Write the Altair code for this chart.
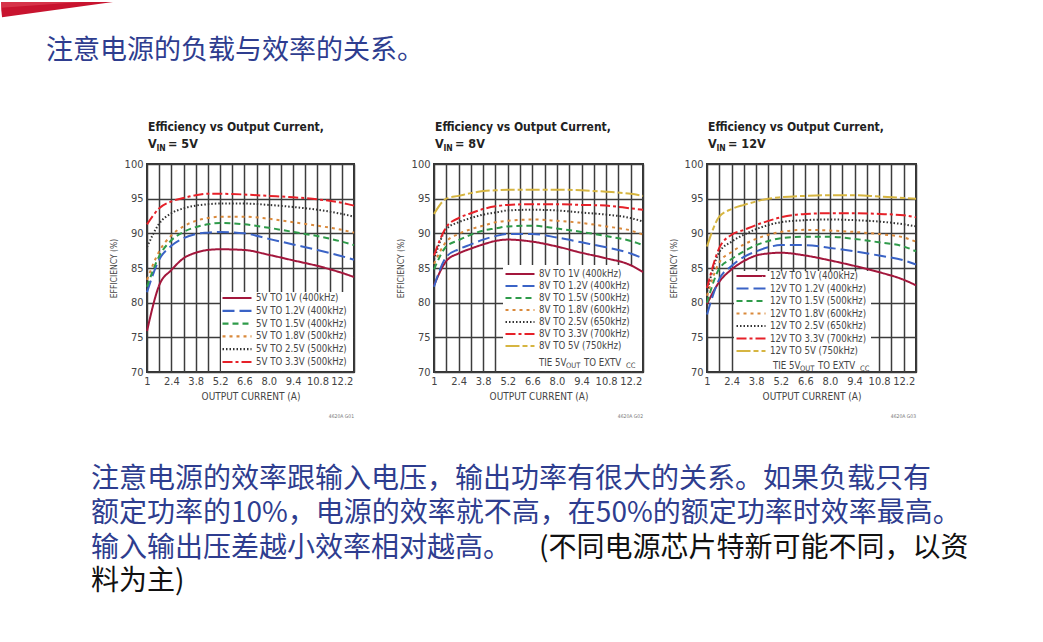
import altair as alt
import pandas as pd

# ---------------- data ----------------
current_a = [1.0, 1.7, 2.4, 3.1, 3.8, 4.5, 5.2, 6.6, 8.0, 9.4, 10.8, 12.2, 12.9]
grid_x = [1.0, 1.7, 2.4, 3.1, 3.8, 4.5, 5.2, 5.9, 6.6, 7.3, 8.0, 8.7, 9.4, 10.1, 10.8, 11.5, 12.2, 12.9]
label_x = [1, 2.4, 3.8, 5.2, 6.6, 8.0, 9.4, 10.8, 12.2]
grid_y = [70, 75, 80, 85, 90, 95, 100]

# VIN = 5V
vin5_1v0 = [75.9, 82.5, 84.7, 86.4, 87.2, 87.6, 87.7, 87.6, 86.9, 86.1, 85.3, 84.3, 83.7]
vin5_1v2 = [81.5, 86.2, 88.2, 89.3, 89.9, 90.1, 90.2, 90.0, 89.2, 88.4, 87.6, 86.7, 86.2]
vin5_1v5 = [82.3, 86.7, 89.0, 90.2, 90.9, 91.3, 91.5, 91.3, 90.8, 90.2, 89.6, 88.8, 88.3]
vin5_1v8 = [83.3, 87.4, 89.7, 91.0, 91.8, 92.2, 92.4, 92.4, 92.1, 91.6, 91.1, 90.5, 90.1]
vin5_2v5 = [88.0, 91.4, 92.9, 93.6, 94.0, 94.2, 94.3, 94.3, 94.1, 93.8, 93.4, 92.8, 92.4]
vin5_3v3 = [91.3, 93.6, 94.6, 95.1, 95.5, 95.7, 95.7, 95.6, 95.4, 95.2, 94.9, 94.4, 94.0]

# VIN = 8V
vin8_1v0 = [82.5, 86.0, 87.1, 87.8, 88.4, 88.9, 89.1, 88.8, 88.1, 87.2, 86.4, 85.4, 84.4]
vin8_1v2 = [82.3, 86.6, 87.7, 88.4, 89.1, 89.6, 89.9, 89.9, 89.4, 88.7, 88.0, 87.1, 86.4]
vin8_1v5 = [84.8, 88.1, 89.0, 89.8, 90.4, 90.7, 91.0, 91.1, 90.7, 90.2, 89.6, 88.9, 88.3]
vin8_1v8 = [85.6, 88.8, 89.9, 90.6, 91.1, 91.6, 91.8, 92.0, 91.8, 91.5, 91.0, 90.4, 89.8]
vin8_2v5 = [86.2, 90.6, 91.6, 92.2, 92.7, 93.0, 93.3, 93.4, 93.3, 93.0, 92.7, 92.2, 91.7]
vin8_3v3 = [86.8, 90.9, 92.2, 92.9, 93.5, 93.9, 94.1, 94.2, 94.2, 94.1, 94.0, 93.6, 93.4]
vin8_5v0 = [92.8, 95.0, 95.4, 95.8, 96.1, 96.2, 96.3, 96.3, 96.3, 96.2, 96.0, 95.7, 95.4]

# VIN = 12V
vin12_1v0 = [79.8, 83.0, 84.8, 86.0, 86.8, 87.1, 87.2, 86.8, 86.1, 85.3, 84.4, 83.3, 82.5]
vin12_1v2 = [78.3, 83.4, 85.3, 86.6, 87.4, 88.0, 88.3, 88.3, 87.9, 87.4, 86.8, 86.1, 85.5]
vin12_1v5 = [80.0, 84.9, 86.3, 87.4, 88.3, 88.9, 89.3, 89.5, 89.5, 89.2, 88.7, 88.1, 87.4]
vin12_1v8 = [81.0, 85.8, 87.3, 88.4, 89.2, 89.8, 90.2, 90.5, 90.4, 90.2, 89.9, 89.4, 88.8]
vin12_2v5 = [81.6, 87.3, 88.8, 89.8, 90.6, 91.2, 91.6, 91.9, 92.0, 91.9, 91.7, 91.3, 91.0]
vin12_3v3 = [82.1, 87.9, 89.8, 90.5, 91.2, 91.8, 92.3, 92.8, 92.9, 92.9, 92.8, 92.6, 92.3]
vin12_5v0 = [88.1, 92.4, 93.5, 94.1, 94.6, 95.0, 95.2, 95.4, 95.5, 95.5, 95.3, 95.1, 95.0]

labels_5v = ["5V TO 1V (400kHz)", "5V TO 1.2V (400kHz)", "5V TO 1.5V (400kHz)",
             "5V TO 1.8V (500kHz)", "5V TO 2.5V (500kHz)", "5V TO 3.3V (500kHz)"]
labels_8v = ["8V TO 1V (400kHz)", "8V TO 1.2V (400kHz)", "8V TO 1.5V (500kHz)",
             "8V TO 1.8V (600kHz)", "8V TO 2.5V (650kHz)", "8V TO 3.3V (700kHz)",
             "8V TO 5V (750kHz)"]
labels_12v = ["12V TO 1V (400kHz)", "12V TO 1.2V (400kHz)", "12V TO 1.5V (500kHz)",
              "12V TO 1.8V (600kHz)", "12V TO 2.5V (650kHz)", "12V TO 3.3V (700kHz)",
              "12V TO 5V (750kHz)"]

slide_title = "注意电源的负载与效率的关系。"
para_line1 = "注意电源的效率跟输入电压，输出功率有很大的关系。如果负载只有"
para_line2 = "额定功率的10%，电源的效率就不高，在50%的额定功率时效率最高。"
para_line3a = "输入输出压差越小效率相对越高。"
para_line3b = "(不同电源芯片特新可能不同，以资"
para_line4 = "料为主)"

# ---------------- styles ----------------
series_colors = ["#A3173C", "#3A63C6", "#2F9B4A", "#DA8A3C", "#333333", "#E62129", "#D6B541"]
series_dashes = [[1, 0], [12, 5], [6, 4], [3, 4], [1.5, 2], [10, 3, 3, 3], [14, 3, 5, 3]]
NARROW = "Liberation Sans Narrow, DejaVu Sans Condensed, sans-serif"
CJK = "Noto Sans CJK SC"
NAVY = "#2E3D8F"
PH = 208  # plot height


def txt(text, x, y, size, color="#222222", font=NARROW, weight="normal",
        align="left", baseline="middle"):
    return alt.Chart(alt.Data(values=[{}])).mark_text(
        text=text, fontSize=size, font=font, fontWeight=weight, color=color,
        align=align, baseline=baseline
    ).encode(x=alt.value(x), y=alt.value(y))


xlabel_expr = ("indexof(%s, datum.value) >= 0 ? (datum.value == 1 ? '1' : format(datum.value, '.1f')) : ''"
               % str(label_x))


def panel(names, value_lists, width, vin, code, lx, ly, rowpad, box, tie=None):
    rows = []
    for name, vals in zip(names, value_lists):
        for a, e in zip(current_a, vals):
            rows.append({"current": a, "efficiency": e, "series": name})
    df = pd.DataFrame(rows)
    n = len(names)
    leg = alt.Legend(orient="none", legendX=lx, legendY=ly, title=None,
                     symbolType="stroke", symbolSize=841, symbolStrokeWidth=2.2,
                     labelFont=NARROW, labelFontSize=9.6, labelColor="#444444",
                     clipHeight=12, rowPadding=rowpad, padding=0, labelOffset=3,
                     symbolOffset=0)
    lines = alt.Chart(df).mark_line(strokeWidth=2, interpolate="monotone", strokeCap="butt").encode(
        x=alt.X("current:Q", scale=alt.Scale(domain=[1, 12.9], nice=False, zero=False),
                axis=alt.Axis(values=grid_x, labelExpr=xlabel_expr, title="OUTPUT CURRENT (A)",
                              labelOverlap=False, labelFlush=False, labelPadding=3,
                              titlePadding=5, titleFontSize=10)),
        y=alt.Y("efficiency:Q", scale=alt.Scale(domain=[70, 100], nice=False, zero=False),
                axis=alt.Axis(values=grid_y, format="d", title="EFFICIENCY (%)",
                              labelPadding=4, titlePadding=6, titleFontSize=8.5)),
        color=alt.Color("series:N", scale=alt.Scale(domain=names, range=series_colors[:n]), legend=leg),
        strokeDash=alt.StrokeDash("series:N", scale=alt.Scale(domain=names, range=series_dashes[:n]), legend=leg),
    )
    bg = alt.Chart(alt.Data(values=[{}])).mark_rect(color="white").encode(
        x=alt.value(box[0]), x2=alt.value(box[1]), y=alt.value(box[2]), y2=alt.value(box[3]))
    texts = [
        txt("Efficiency vs Output Current,", 1, -37, 12, weight="bold"),
        txt("V", 1, -20, 12.5, weight="bold"),
        txt("IN", 9.5, -16.5, 8.5, weight="bold"),
        txt("= " + vin, 21, -20, 12.5, weight="bold"),
        txt(code, width, 252, 5, color="#777777", align="right"),
    ]
    if tie is not None:
        tx, ty = tie
        texts += [
            txt("TIE 5V", tx, ty, 9.6, color="#444444"),
            txt("OUT", tx + 27, ty + 3, 7.5, color="#444444"),
            txt("TO EXTV", tx + 45, ty, 9.6, color="#444444"),
            txt("CC", tx + 87, ty + 3, 7.5, color="#444444"),
        ]
    return [bg, lines] + texts


# decorative red swoosh in the slide's top-left corner (relative to panel 1's plot origin)
swoosh = alt.Chart(alt.Data(values=[{}])).mark_arc(
    radius=112, radius2=0, theta=4.575, theta2=4.7124, color="#C8142F"
).encode(x=alt.value(-34), y=alt.value(-162))
swoosh_hi = alt.Chart(alt.Data(values=[{}])).mark_arc(
    radius=80, radius2=0, theta=4.64, theta2=4.7124, color="#E0485C", opacity=0.6
).encode(x=alt.value(-66), y=alt.value(-162))

# panel 1 (also hosts slide title and paragraph)
p1_layers = panel(labels_5v, [vin5_1v0, vin5_1v2, vin5_1v5, vin5_1v8, vin5_2v5, vin5_3v3],
                  207, "5V", "4620A G01", 74, 128, 0.8, (74, 206, 128, 207))
p1_layers += [
    swoosh, swoosh_hi,
    txt(slide_title, -101, -113.5, 27, color=NAVY, font=CJK),
    txt(para_line1, -56, 316, 28, color=NAVY, font=CJK),
    txt(para_line2, -56, 350, 28, color=NAVY, font=CJK),
    txt(para_line3a, -56, 385, 28, color=NAVY, font=CJK),
    txt(para_line3b, 392, 385, 28, color="#111111", font=CJK),
    txt(para_line4, -56, 418, 28, color="#111111", font=CJK),
]
p1 = alt.layer(*p1_layers).properties(width=207, height=PH)

p2 = alt.layer(*panel(labels_8v, [vin8_1v0, vin8_1v2, vin8_1v5, vin8_1v8, vin8_2v5, vin8_3v3, vin8_5v0],
                      209, "8V", "4620A G02", 70, 104, 0.0, (69, 208, 101, 207),
                      tie=(105, 199))).properties(width=209, height=PH)
p3 = alt.layer(*panel(labels_12v, [vin12_1v0, vin12_1v2, vin12_1v5, vin12_1v8, vin12_2v5, vin12_3v3, vin12_5v0],
                      209, "12V", "4620A G03", 28, 106, 0.5, (27, 164, 107, 207),
                      tie=(66, 202))).properties(width=209, height=PH)

inner = alt.hconcat(p2, p3, spacing=64, bounds="flush").resolve_scale(
    color="independent", strokeDash="independent")
chart = alt.hconcat(p1, inner, spacing=80, bounds="flush").properties(
    padding=0,
    background="white",
).configure_view(
    stroke="#333333", strokeWidth=2
).configure_axis(
    domain=False, ticks=False, grid=True, gridColor="#3c3c3c", gridWidth=1.5, gridOpacity=1,
    labelFont=NARROW, labelFontSize=11, labelColor="#444444",
    titleFont=NARROW, titleFontWeight="normal", titleColor="#444444",
).resolve_scale(color="independent", strokeDash="independent")

chart.save("out.html", embed_options={"renderer": "svg", "actions": False})
